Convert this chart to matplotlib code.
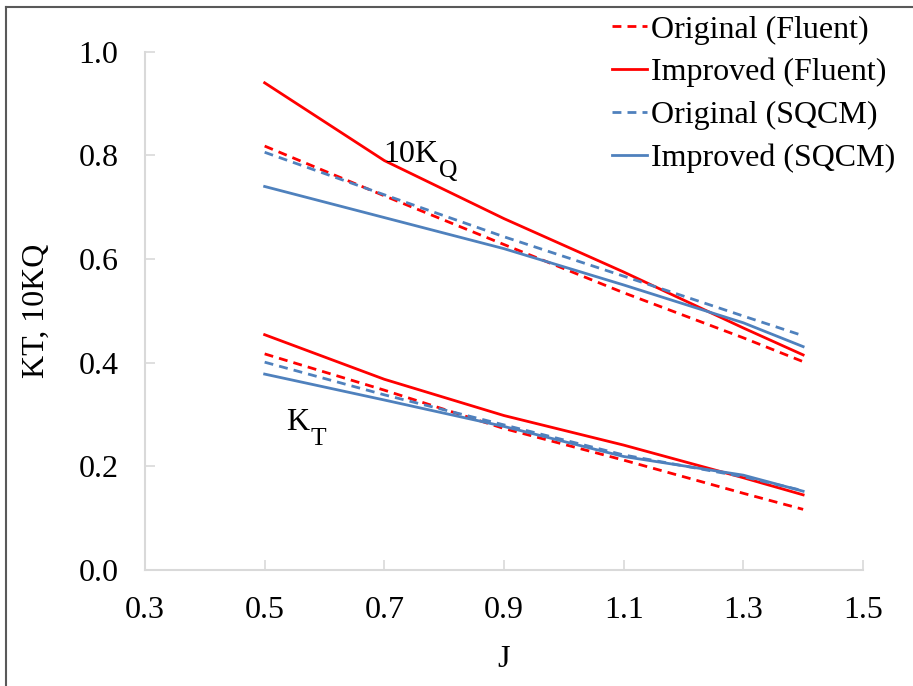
import matplotlib
matplotlib.use("Agg")
import matplotlib.pyplot as plt
from matplotlib.lines import Line2D

plt.rcParams['font.family'] = ['Liberation Serif', 'DejaVu Serif']

# Advance coefficient
J = [0.5, 0.7, 0.9, 1.1, 1.3, 1.4]

# 10KQ curves
kq_orig_fluent = [0.818, 0.722, 0.628, 0.535, 0.448, 0.402]
kq_impr_fluent = [0.940, 0.790, 0.678, 0.575, 0.467, 0.415]
kq_orig_sqcm = [0.806, 0.724, 0.643, 0.567, 0.490, 0.452]
kq_impr_sqcm = [0.740, 0.680, 0.620, 0.550, 0.477, 0.431]

# KT curves
kt_orig_fluent = [0.417, 0.347, 0.273, 0.212, 0.148, 0.117]
kt_impr_fluent = [0.454, 0.368, 0.298, 0.241, 0.178, 0.145]
kt_orig_sqcm = [0.401, 0.338, 0.280, 0.222, 0.180, 0.153]
kt_impr_sqcm = [0.378, 0.328, 0.277, 0.219, 0.183, 0.152]

x_ticks = [0.3, 0.5, 0.7, 0.9, 1.1, 1.3, 1.5]
y_ticks = [0.0, 0.2, 0.4, 0.6, 0.8, 1.0]

RED = '#FF0000'
BLUE = '#4F81BD'
GRID = '#D9D9D9'
FS = 23

fig = plt.figure(figsize=(9.13, 6.86), dpi=100)
ax = fig.add_axes([0.1588, 0.1691, 0.7864, 0.7555])

lw = 2.0
dash = (0, (3.2, 2.2))
series = [
    (kq_orig_fluent, kt_orig_fluent, RED, dash, 'Original (Fluent)'),
    (kq_impr_fluent, kt_impr_fluent, RED, '-', 'Improved (Fluent)'),
    (kq_orig_sqcm, kt_orig_sqcm, BLUE, dash, 'Original (SQCM)'),
    (kq_impr_sqcm, kt_impr_sqcm, BLUE, '-', 'Improved (SQCM)'),
]
handles = []
for kq, kt, col, ls, lab in series:
    h, = ax.plot(J, kq, color=col, linestyle=ls, lw=lw, label=lab)
    ax.plot(J, kt, color=col, linestyle=ls, lw=lw)
    handles.append(h)

ax.set_xlim(0.3, 1.5)
ax.set_ylim(0.0, 1.0)
ax.set_xticks(x_ticks)
ax.set_yticks(y_ticks)
ax.set_xticklabels([f'{v:.1f}' for v in x_ticks])
ax.set_yticklabels([f'{v:.1f}' for v in y_ticks])

for s in ['top', 'right']:
    ax.spines[s].set_visible(False)
for s in ['left', 'bottom']:
    ax.spines[s].set_color(GRID)
    ax.spines[s].set_linewidth(1.5)
ax.tick_params(axis='both', direction='in', length=7, width=1.2, color=GRID,
               labelsize=FS, pad=19)

ax.set_xlabel('J', fontsize=FS, labelpad=14)
ax.set_ylabel('KT, 10KQ', fontsize=FS, labelpad=20)

# curve-family labels with subscripts
t1 = ax.text(0.698, 0.788, '10K', fontsize=FS, ha='left', va='baseline')
ax.annotate('Q', xy=(1, 0), xycoords=t1, xytext=(0.5, -6), textcoords='offset points',
            fontsize=FS * 0.8, ha='left', va='baseline')
t2 = ax.text(0.536, 0.270, 'K', fontsize=FS, ha='left', va='baseline')
ax.annotate('T', xy=(1, 0), xycoords=t2, xytext=(0.5, -6), textcoords='offset points',
            fontsize=FS * 0.8, ha='left', va='baseline')

leg = ax.legend(handles=handles, loc='upper left', bbox_to_anchor=(0.632, 1.095),
                frameon=False, fontsize=FS, handlelength=1.1, handletextpad=0.15,
                labelspacing=0.415, borderaxespad=0)

# outer frame
fig.add_artist(Line2D([6 / 913, 6 / 913], [0, 1 - 7 / 686], transform=fig.transFigure,
                      color='#595959', lw=1.5))
fig.add_artist(Line2D([6 / 913, 1], [1 - 7 / 686, 1 - 7 / 686], transform=fig.transFigure,
                      color='#595959', lw=1.5))

fig.savefig('out.png', dpi=100)
